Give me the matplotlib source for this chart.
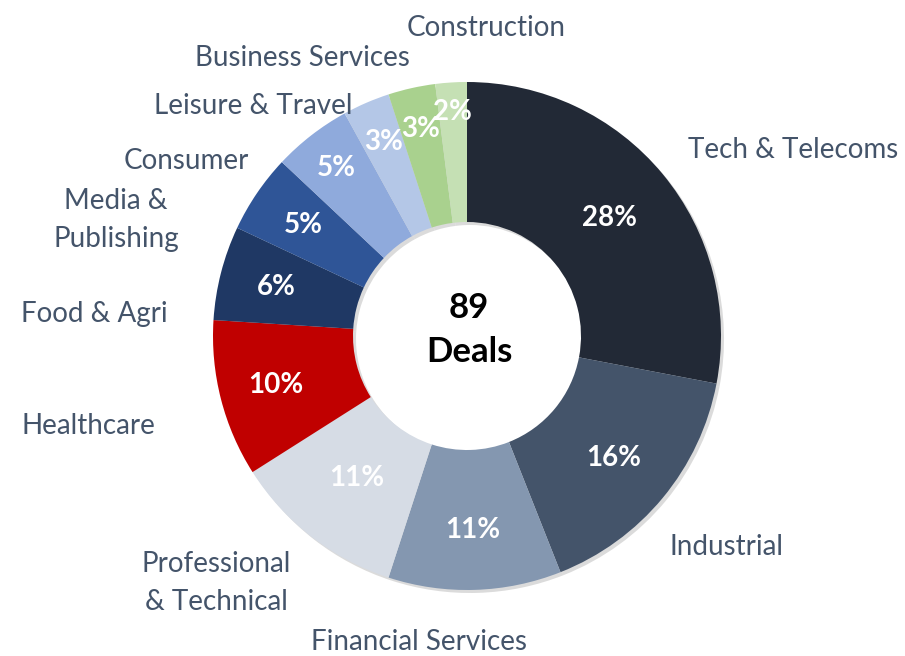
import numpy as np
import matplotlib.pyplot as plt

# deal share by sector (%), clockwise from 12 o'clock
sectors = ['Tech & Telecoms', 'Industrial', 'Financial Services',
           'Professional\n& Technical', 'Healthcare', 'Food & Agri',
           'Media &\nPublishing', 'Consumer', 'Leisure & Travel',
           'Business Services', 'Construction']
shares = [28, 16, 11, 11, 10, 6, 5, 5, 3, 3, 2]
total_deals = 89

colors = ['#222936', '#44546A', '#8497B0', '#D6DCE5', '#C00000', '#1F3864',
          '#2F5597', '#8FAADC', '#B4C7E7', '#A9D18E', '#C5E0B4']

# label anchors in pixel coords (x from left, y from top)
label_pos = [(793, 150), (726, 547), (419, 642), (216, 583), (88, 426),
             (94, 314), (116, 220), (186, 161), (253, 106), (302, 58),
             (486, 28)]
# distance of the % labels from the centre (px)
pct_radius = [185, 191, 194, 180, 197, 197, 198, 213, 211, 212, 224]

W, H = 905, 656
cx, cy, r_out, r_in = 467, 336, 254, 114

fig = plt.figure(figsize=(W / 100, H / 100), dpi=100)
ax = fig.add_axes([0, 0, 1, 1])
ax.axis('off')

ring = r_out - r_in

# soft shadow
ax.pie(shares, radius=r_out, center=(cx + 3, H - cy - 3), startangle=90,
       counterclock=False, colors=['#B0B0B0'] * len(shares),
       wedgeprops=dict(width=ring, alpha=0.45, linewidth=0))

wedges, texts = ax.pie(
    shares, radius=r_out, center=(cx, H - cy), startangle=90,
    counterclock=False, colors=colors,
    wedgeprops=dict(width=ring, linewidth=0))
ax.set_xlim(0, W)
ax.set_ylim(0, H)
ax.set_aspect('auto')

for w, val, rr in zip(wedges, shares, pct_radius):
    ang = np.deg2rad((w.theta1 + w.theta2) / 2)
    ax.text(cx + rr * np.cos(ang), H - cy + rr * np.sin(ang), f'{val}%',
            ha='center', va='center', color='white', fontsize=20,
            fontweight='bold', family='Lato')

for name, (px, py) in zip(sectors, label_pos):
    ax.text(px, H - py, name, ha='center', va='center', fontsize=20,
            color='#44546A', family='Lato', linespacing=1.6)

ax.text(cx + 2, H - cy + 6, f'{total_deals}\nDeals', ha='center', va='center',
        fontsize=25, fontweight='bold', color='black', family='Lato',
        linespacing=1.5)

fig.savefig('out.png', dpi=100)
